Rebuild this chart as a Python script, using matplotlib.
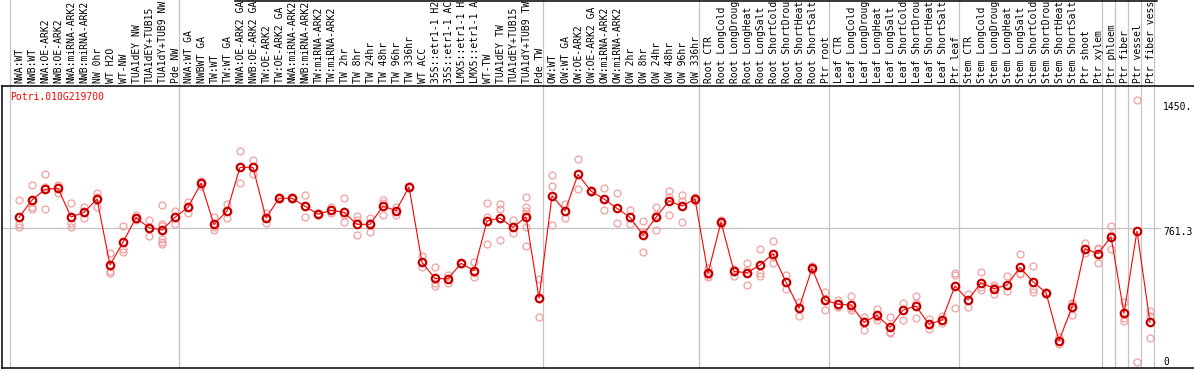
import matplotlib
matplotlib.use('Agg')
from matplotlib import pyplot as plt
from matplotlib import transforms
import numpy as np

gene = 'Potri.010G219700'

group_sizes = [13, 28, 12, 10, 10, 11, 1, 1, 1, 1]

# sample names as far as the original shows them (cut at the top edge)
labels = [
    'NWA:WT', 'NWB:WT', 'NWA:OE-ARK2', 'NWB:OE-ARK2', 'NWA:miRNA-ARK2', 'NWB:miRNA-ARK2',
    'NW 0hr', 'WT H2O', 'WT-NW', 'TUA1dEY NW', 'TUA1dEY+TUB15', 'TUA1dY+TUB9 NW', 'Pde NW',
    'NWA:WT GA', 'NWBWT GA', 'TW:WT', 'TW:WT GA', 'NWA:OE-ARK2 GA', 'NWB:OE-ARK2 GA',
    'TW:OE-ARK2', 'TW:OE-ARK2 GA', 'NWA:miRNA-ARK2', 'NWB:miRNA-ARK2', 'TW:miRNA-ARK2',
    'TW:miRNA-ARK2', 'TW 2hr', 'TW 8hr', 'TW 24hr', 'TW 48hr', 'TW 96hr', 'TW 336hr', 'WT ACC',
    '35S::etr1-1 H2', '35S::etr1-1 AC', 'LMX5::etr1-1 H', 'LMX5::etr1-1 A', 'WT-TW',
    'TUA1dEY TW', 'TUA1dEY+TUB15', 'TUA1dY+TUB9 TW', 'Pde TW',
    'OW:WT', 'OW:WT GA', 'OW:OE-ARK2', 'OW:OE-ARK2 GA', 'OW:miRNA-ARK2', 'OW:miRNA-ARK2',
    'OW 2hr', 'OW 8hr', 'OW 24hr', 'OW 48hr', 'OW 96hr', 'OW 336hr',
    'Root CTR', 'Root LongCold', 'Root LongDroug', 'Root LongHeat', 'Root LongSalt',
    'Root ShortCold', 'Root ShortDrou', 'Root ShortHeat', 'Root ShortSalt', 'Ptr root',
    'Leaf CTR', 'Leaf LongCold', 'Leaf LongDroug', 'Leaf LongHeat', 'Leaf LongSalt',
    'Leaf ShortCold', 'Leaf ShortDrou', 'Leaf ShortHeat', 'Leaf ShortSalt', 'Ptr leaf',
    'Stem CTR', 'Stem LongCold', 'Stem LongDroug', 'Stem LongHeat', 'Stem LongSalt',
    'Stem ShortCold', 'Stem ShortDrou', 'Stem ShortHeat', 'Stem ShortSalt', 'Ptr shoot',
    'Ptr xylem', 'Ptr phloem', 'Ptr fiber', 'Ptr vessel', 'Ptr fiber vess',
]

means = [
    822, 920, 981, 987, 824, 850, 926, 551, 680, 820, 763, 750, 822,
    879, 1015, 782, 858, 1106, 1106, 818, 930, 930, 886, 839, 862, 850, 782, 782,
    885, 860, 994, 566, 475, 472, 561, 519, 801, 818, 765, 824, 362,
    945, 858, 1066, 971, 926, 873, 822, 721, 822, 915, 886, 926,
    504, 795, 515, 507, 551, 615, 454, 305, 532, 352,
    328, 324, 225, 265, 197, 295, 318, 214, 239, 432,
    352, 451, 417, 437, 538, 456, 394, 121, 312, 644, 615,
    712, 277, 744, 225,
]

reps = [
    [920, 784, 767], [1004, 882, 867], [1068, 996, 869], [1007, 992, 962],
    [901, 788, 769], [882, 850, 820], [962, 939, 879], [617, 517, 507],
    [773, 640, 623], [835, 820, 807], [807, 763, 718], [890, 782, 770, 700, 684, 670],
    [860, 822, 784],
    [911, 879, 845], [1030, 1015, 1000], [826, 765, 750], [896, 858, 816],
    [1199, 1106, 1015], [1148, 1106, 1068], [848, 818, 791], [935, 930, 925],
    [935, 930, 925], [947, 886, 822], [845, 839, 833], [882, 862, 848],
    [930, 835, 794], [829, 807, 721], [820, 790, 737], [920, 901, 833],
    [879, 860, 835], [1000, 994, 988], [602, 566, 541], [538, 451, 432],
    [494, 472, 451], [565, 561, 557], [570, 504, 481], [901, 826, 670],
    [896, 869, 693], [807, 765, 735], [936, 882, 860, 840, 765, 660], [470, 360, 257],
    [1061, 1002, 778], [898, 858, 816], [1151, 1066, 981], [976, 971, 966],
    [989, 926, 864], [958, 873, 788], [864, 822, 784], [801, 740, 623],
    [881, 835, 750], [971, 940, 835], [947, 915, 794], [935, 926, 915],
    [532, 497, 485], [805, 795, 785], [530, 515, 490], [564, 520, 437],
    [642, 507, 489], [687, 595, 564], [494, 454, 413], [343, 310, 260],
    [545, 530, 525], [399, 360, 295],
    [352, 320, 312], [375, 305, 295], [257, 235, 182], [301, 255, 239],
    [254, 172, 163], [333, 295, 239], [375, 333, 248], [243, 214, 186],
    [261, 239, 220], [507, 493, 305],
    [386, 352, 314], [509, 428, 409], [437, 428, 386], [489, 437, 405],
    [612, 504, 500], [547, 413, 399], [400, 394, 388], [140, 122, 102],
    [337, 330, 267], [678, 644, 617], [645, 640, 561],
    [773, 722, 640], [343, 248, 235], [1490, 0], [292, 261, 135],
]

tick_values = [1450, 761.3, 0]
tick_texts = ['1450.', '761.3', '0']
grid_value = 761.3

# pixel layout of the original (1194 x 370)
W, H = 1194, 370
ax_left, ax_right = 1.5, 1194
ax_top, ax_bottom = 86, 368
x0_px, step_px = 19, 13
y0_px, px_per_unit = 362, 134 / 761.3

fig = plt.figure(figsize=(W / 100, H / 100), dpi=100)
ax = fig.add_axes([ax_left / W, (H - ax_bottom) / H,
                   (ax_right - ax_left) / W, (ax_bottom - ax_top) / H])
ax.set_xlim((ax_left - x0_px) / step_px, (ax_right - x0_px) / step_px)
ax.set_ylim((y0_px - ax_bottom) / px_per_unit, (y0_px - ax_top) / px_per_unit)
ax.set_xticks([])
ax.set_yticks([])
for s in ['left', 'top', 'bottom']:
    ax.spines[s].set_linewidth(1.1)
    ax.spines[s].set_color('black')
ax.spines['right'].set_visible(False)

ind = np.arange(len(means))
mono = 'DejaVu Sans Mono'
fs = 7.0
grey = '#c4c4c4'

# group separators, reaching up through the label band
bounds = np.concatenate([[0], np.cumsum(group_sizes)])
ext = ax_bottom / (ax_bottom - ax_top)
for b in bounds:
    ax.axvline(b - 9 / step_px, ymin=0, ymax=ext, color=grey, lw=0.9, clip_on=False, zorder=0)

ax.axhline(grid_value, xmin=0, xmax=(1160 - ax_left) / (ax_right - ax_left), color=grey, lw=0.9, zorder=0)

# replicates
rx = np.concatenate([np.full(len(r), i) for i, r in enumerate(reps)])
ry = np.concatenate([np.array(r, dtype=float) for r in reps])
ax.plot(rx, ry, 'o', ms=5.0, mfc='none', mec='#f0a0a0', mew=0.9, zorder=2)

# means
ax.plot(ind, means, '-', color='#ff0000', lw=0.8, zorder=3)
ax.plot(ind, means, 'o', ms=5.4, mfc='none', mec='#ff0000', mew=1.6, zorder=4)
ax.plot(ind, means, 'o', ms=5.4, mfc='none', mec='#500000', mew=0.45, zorder=5)

# sample labels
trans = transforms.blended_transform_factory(ax.transData, ax.transAxes)
for i, lab in enumerate(labels):
    ax.text(i + 0.05, 1 + 3 / (ax_bottom - ax_top), lab, rotation=90, ha='center', va='bottom',
            family=mono, fontsize=fs, transform=trans, clip_on=False)

# top border line of the label band
fig.add_artist(plt.Line2D([235 / W, 1157 / W], [1 - 0.5 / H, 1 - 0.5 / H], color='black', lw=1.1))

# title
ax.text((10 - ax_left) / (ax_right - ax_left), 1 - 10.7 / (ax_bottom - ax_top), gene,
        color='#ff0000', family=mono, fontsize=fs, ha='left', va='center', transform=ax.transAxes)

# value labels on the right
ytrans = ax.get_yaxis_transform()
xt = (1163 - ax_left) / (ax_right - ax_left)
for v, t in zip(tick_values, tick_texts):
    dy = -3.2 if t == '761.3' else 0
    ax.annotate(t, xy=(xt, v), xycoords=ytrans, xytext=(0, dy), textcoords='offset points',
                ha='left', va='center', family=mono, fontsize=fs)

fig.savefig('out.png', dpi=100)
